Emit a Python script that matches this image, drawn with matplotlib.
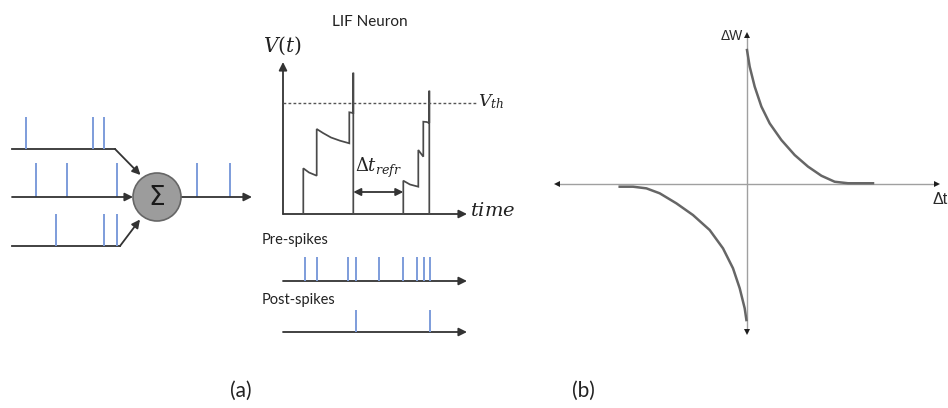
import matplotlib
matplotlib.use("Agg")
import matplotlib.pyplot as plt
from matplotlib.patches import Circle

plt.rcParams["mathtext.fontset"] = "dejavuserif"

W, H = 948, 408
SANS = "Lato"
SPIKE = "#7d9cdb"
INK = "#333333"

# ---- data -------------------------------------------------------------
# input spike trains feeding the summation node (positions along each line)
in_top = [26, 93, 104]
in_mid = [36, 67, 117]
in_bot = [56, 104, 117]
out_spikes = [197, 230]

# LIF membrane potential trace (time, voltage)
mem_t = [20.3, 20.3, 26, 33.7, 33.7, 40, 48, 57, 66.3, 66.3, 70.3, 70.3, 70.3,
         120.3, 120.3, 127, 135.3, 135.3, 140.3, 140.3, 143.7, 146.3, 146.3, 146.3]
mem_v = [0, 45.7, 41.5, 38.3, 85, 81, 76.5, 73.3, 70.7, 101.7, 101, 141.3, 0,
         0, 33.3, 29.5, 27.3, 64, 57.3, 92.3, 92, 91, 123.3, 0]
v_th = 111.3
t_refr = (70.3, 120.3)

# pre/post synaptic spike times
pre_times = [22, 34.3, 65.3, 72.7, 96, 119.7, 133.7, 141, 147]
post_times = [72.7, 147]

# STDP window: weight change vs spike-timing difference
ltp_dt = [0, 1.35, 3.85, 7.2, 11.35, 17.2, 23.85, 30.5, 37.2, 43.85, 50.5, 63]
ltp_dw = [0.893, 0.782, 0.649, 0.516, 0.404, 0.293, 0.193, 0.116, 0.055, 0.015, 0.005, 0.005]
ltd_dt = [-63.65, -57, -50.3, -43.65, -35.3, -27, -18.65, -12, -7, -3.65, -1.15, -0.3]
ltd_dw = [-0.018, -0.018, -0.029, -0.062, -0.129, -0.207, -0.307, -0.429,
          -0.562, -0.695, -0.829, -0.907]

# ---- figure -----------------------------------------------------------
fig = plt.figure(figsize=(W / 100, H / 100), dpi=100)
fig.patch.set_facecolor("white")


def px_axes(x0, y0, x1, y1):
    """Axes placed by pixel box (top-left origin)."""
    ax = fig.add_axes([x0 / W, 1 - y1 / H, (x1 - x0) / W, (y1 - y0) / H])
    ax.set_axis_off()
    return ax


ov = px_axes(0, 0, W, H)
ov.set_xlim(0, W)
ov.set_ylim(H, 0)


def arrow(ax, p0, p1, color=INK, lw=1.3, ms=12, style="-|>"):
    ax.annotate("", xy=p1, xytext=p0,
                arrowprops=dict(arrowstyle=style, color=color, lw=lw,
                                mutation_scale=ms, shrinkA=0, shrinkB=0),
                annotation_clip=False)


# ---- (a) left: summation of input spike trains -------------------------
cx, cy, r = 157, 197, 24
ov.plot([12, 115], [149, 149], color=INK, lw=1.3)
arrow(ov, (115, 149), (140.5, 175))
arrow(ov, (12, 197), (cx - r, 197))
ov.plot([12, 120], [246, 246], color=INK, lw=1.3)
arrow(ov, (120, 246), (140, 219.5))
arrow(ov, (cx + r, 197), (252, 197))

ov.vlines(in_top, 149, 117, color=SPIKE, lw=1.4)
ov.vlines(in_mid, 197, 163, color=SPIKE, lw=1.4)
ov.vlines(in_bot, 246, 214, color=SPIKE, lw=1.4)
ov.vlines(out_spikes, 197, 163, color=SPIKE, lw=1.4)

ov.add_patch(Circle((cx, cy), r, facecolor="#9c9c9c", edgecolor="#666666", lw=1.2, zorder=3))
ov.text(cx, cy + 1, "Σ", fontsize=19, family="DejaVu Sans", ha="center", va="center",
        color="#1a1a1a", zorder=4)

# ---- (a) middle: LIF membrane potential --------------------------------
ov.text(370, 22, "LIF Neuron", fontsize=11, family=SANS, ha="center", va="center", color="#222")
ov.text(282, 46, r"$V(t)$", fontsize=14.5, ha="center", va="center", color="#222")
arrow(ov, (283, 214), (467, 214))
arrow(ov, (283, 214), (283, 62))
ov.text(470, 211, r"$time$", fontsize=14, ha="left", va="center", color="#222")
ov.text(478, 102, r"$V_{th}$", fontsize=12.5, ha="left", va="center", color="#222")

mem = px_axes(283, 62, 467, 214)
mem.set_xlim(0, 184)
mem.set_ylim(0, 152)
mem.plot(mem_t, mem_v, color="#4a4a4a", lw=1.25, solid_joinstyle="miter", clip_on=False)
mem.plot([0, 194], [v_th, v_th], color="#555555", lw=1.0, ls=(0, (2, 1.6)), clip_on=False)
mem.annotate("", xy=(t_refr[0], 22), xytext=(t_refr[1], 22),
             arrowprops=dict(arrowstyle="<|-|>", color=INK, lw=1.3,
                             mutation_scale=11, shrinkA=0, shrinkB=0))
mem.text(sum(t_refr) / 2 + 0.5, 46, r"$\mathit{Δt}_{refr}$", fontsize=13,
         ha="center", va="center", color="#222")

# ---- (a) bottom: pre / post spike rasters ------------------------------
ov.text(262, 240, "Pre-spikes", fontsize=10.5, family=SANS, ha="left", va="center", color="#222")
ov.text(262, 300, "Post-spikes", fontsize=10.5, family=SANS, ha="left", va="center", color="#222")
arrow(ov, (283, 281), (467, 281))
arrow(ov, (283, 332), (467, 332))

pre = px_axes(283, 257, 467, 281)
pre.set_xlim(0, 184)
pre.set_ylim(0, 1)
pre.vlines(pre_times, 0, 1, color=SPIKE, lw=1.4)

post = px_axes(283, 310, 467, 332)
post.set_xlim(0, 184)
post.set_ylim(0, 1)
post.vlines(post_times, 0, 1, color=SPIKE, lw=1.4)

ov.text(241, 391, "(a)", fontsize=15, family=SANS, ha="center", va="center", color="#222")

# ---- (b) STDP learning window ------------------------------------------
stdp = px_axes(555, 34, 939, 334)
stdp.set_xlim(-96, 96)
stdp.set_ylim(-1, 1)
AX = "#a0a0a0"
stdp.plot([-95, 95], [0, 0], color=AX, lw=1.0, clip_on=False)
stdp.plot([0, 0], [-0.985, 0.99], color=AX, lw=1.0, clip_on=False)
# small dark arrow tips at the axis ends
for xy, m in [((-95, 0), "<"), ((95, 0), ">"), ((0, 0.99), "^"), ((0, -0.985), "v")]:
    stdp.plot(*xy, marker=m, ms=4.2, color="#1e1e1e", mew=0, clip_on=False)
stdp.plot(ltp_dt, ltp_dw, color="#666666", lw=1.8, clip_on=False)
stdp.plot(ltd_dt, ltd_dw, color="#666666", lw=1.8, clip_on=False)

ov.text(743, 36, "ΔW", fontsize=10, family="Liberation Sans", ha="right", va="center", color="#2a2a2a")
ov.text(933, 200, "Δt", fontsize=11.5, family="Liberation Sans", ha="left", va="center", color="#2a2a2a")
ov.text(583, 391, "(b)", fontsize=15, family=SANS, ha="center", va="center", color="#222")

fig.savefig("out.png", dpi=100, facecolor="white")
